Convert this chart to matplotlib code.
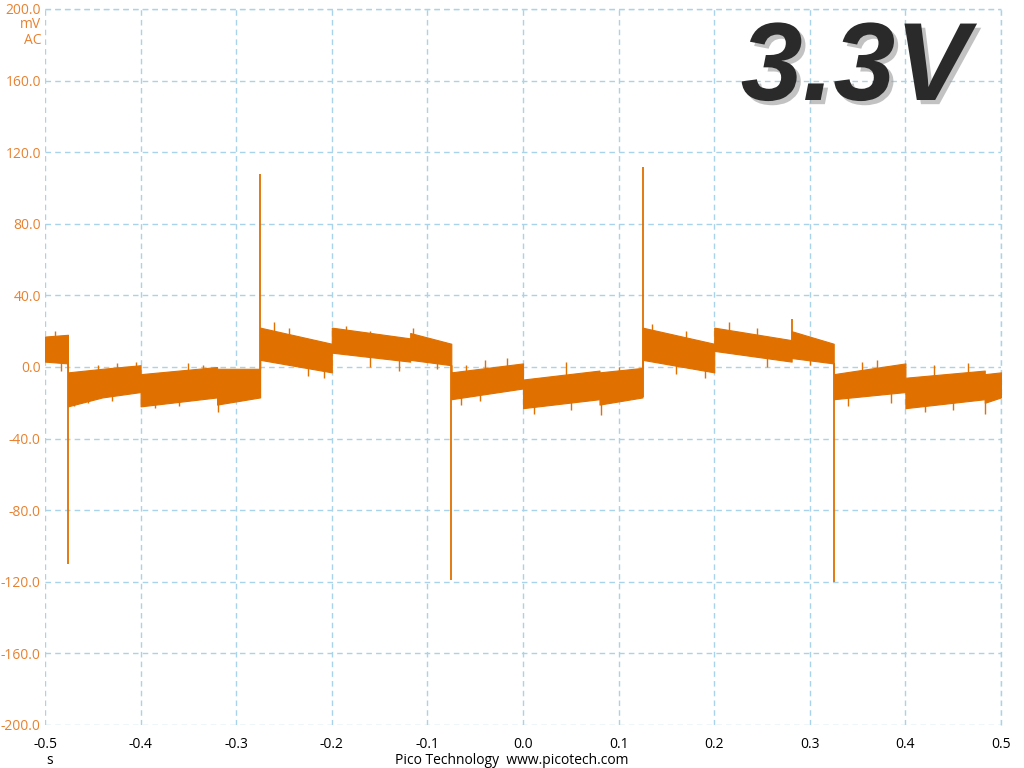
import matplotlib.pyplot as plt
import matplotlib.patheffects as pe

# envelope of the noisy trace (time in s, band top / bottom in mV)
env_t = [-0.5, -0.476, -0.476, -0.44, -0.4, -0.4, -0.32, -0.32, -0.275,
         -0.275, -0.2, -0.2, -0.118, -0.118, -0.075,
         -0.075, 0.0, 0.0, 0.08, 0.08, 0.125,
         0.125, 0.2, 0.2, 0.281, 0.281, 0.325,
         0.325, 0.4, 0.4, 0.483, 0.483, 0.5]
env_hi = [17, 18, -3, -1, 1, -4, 0, -1, -1,
          22, 13, 22, 16, 19, 13,
          -3, 2, -7, -2, -3, -0.5,
          22, 13, 22, 15, 20, 13,
          -4, 2, -6, -2, -4, -3]
env_lo = [3, 2, -22, -17, -14, -22, -17, -21, -17,
          4, -3, 8, 3, 4, 1,
          -18, -12, -23, -18, -21, -17,
          4, -3, 9, 3, 5, 2,
          -18, -14, -23, -18, -20, -17]

# switching spikes: time, where the needle leaves the band, tip value (mV)
spike_t = [-0.476, -0.275, -0.075, 0.125, 0.325, 0.281]
spike_from = [2, -17, 1, -17, 2, 15]
spike_to = [-110, 108, -119, 112, -120, 27]

# smaller noise needles sticking out of the band
needle_t = [-0.49, -0.483, -0.47, -0.455, -0.43, -0.445, -0.425, -0.405,
            -0.35, -0.335, -0.319, -0.385, -0.36,
            -0.26, -0.245, -0.225, -0.208,
            -0.185, -0.16, -0.115, -0.16, -0.13, -0.09,
            -0.06, -0.04, -0.017, -0.065, -0.045,
            0.012, 0.082, 0.05, 0.045, 0.1,
            0.135, 0.17, 0.19, 0.16,
            0.215, 0.245, 0.255, 0.3,
            0.37, 0.355, 0.34, 0.385,
            0.465, 0.43, 0.42, 0.483, 0.45]
needle_from = [10, 10, -10, -10, -10, -8, -8, -8,
               -8, -8, -10, -12, -10,
               12, 12, 8, 6,
               15, 12, 12, 12, 10, 8,
               -10, -8, -6, -10, -10,
               -15, -10, -12, -12, -8,
               12, 10, 6, 8,
               15, 12, 10, 8,
               -6, -8, -10, -8,
               -8, -10, -14, -10, -12]
needle_to = [20, -2, -22, -20, -19, 1, 2, 3,
             2, 1, -25, -23, -22,
             25, 22, -5, -6,
             23, 20, 22, 0, -2, -1,
             1, 4, 5, -21, -19,
             -26, -27, -24, 3, 0,
             24, 20, -6, -4,
             25, 22, 0, 1,
             4, 3, -22, -20,
             2, 1, -25, -26, -24]

yticks = [200, 160, 120, 80, 40, 0, -40, -80, -120, -160, -200]
xticks = [-0.5, -0.4, -0.3, -0.2, -0.1, 0.0, 0.1, 0.2, 0.3, 0.4, 0.5]

trace = '#E07000'
label_orange = '#E8812F'
grid_blue = '#A9D3EA'

plt.rcParams['font.family'] = ['Open Sans', 'DejaVu Sans']

fig = plt.figure(figsize=(10.24, 7.68), dpi=100)
ax = fig.add_axes([45 / 1024, 43 / 768, 956 / 1024, 716 / 768])

ax.fill_between(env_t, env_lo, env_hi, color=trace, linewidth=0.8, edgecolor=trace, zorder=3)
ax.vlines(needle_t, needle_from, needle_to, color=trace, linewidth=1.0, zorder=3)
ax.vlines(spike_t, spike_from, spike_to, color=trace, linewidth=1.3, zorder=3)

ax.set_xlim(-0.5, 0.5)
ax.set_ylim(-200, 200)
ax.set_xticks(xticks)
ax.set_yticks(yticks)
ax.set_xticklabels([f'{x:.1f}' for x in xticks], fontsize=10, color='black')
ax.set_yticklabels([f'{y:.1f}' for y in yticks], fontsize=10, color=label_orange)
ax.tick_params(axis='y', length=0, pad=3)
ax.tick_params(axis='x', length=0, pad=9)
ax.grid(True, color=grid_blue, linestyle=(0, (4, 3)), linewidth=1.0, zorder=1)
for s in ax.spines.values():
    s.set_visible(False)
# right and top border lines
ax.axvline(0.5, color=grid_blue, linestyle=(0, (4, 3)), linewidth=1.0, clip_on=False)
ax.axhline(200, color=grid_blue, linestyle=(0, (4, 3)), linewidth=1.0, clip_on=False)

fig.text(41 / 1024, 1 - 24 / 768, 'mV', ha='right', va='center', fontsize=10, color=label_orange)
fig.text(41 / 1024, 1 - 40 / 768, 'AC', ha='right', va='center', fontsize=10, color=label_orange)
fig.text(50 / 1024, 1 - 760 / 768, 's', ha='center', va='center', fontsize=10, color='black')
fig.text(512 / 1024, 1 - 760 / 768, 'Pico Technology  www.picotech.com', ha='center', va='center',
         fontsize=10, color='black')

fig.text(855 / 1024, 1 - 100 / 768, '3.3V', ha='center', va='baseline', fontsize=80,
         family='Liberation Sans', fontweight='bold', fontstyle='italic', color='#2a2a2a',
         path_effects=[pe.withSimplePatchShadow(offset=(3, -3), shadow_rgbFace='#9a9a9a', alpha=0.6)])

fig.savefig('out.png', dpi=100)
